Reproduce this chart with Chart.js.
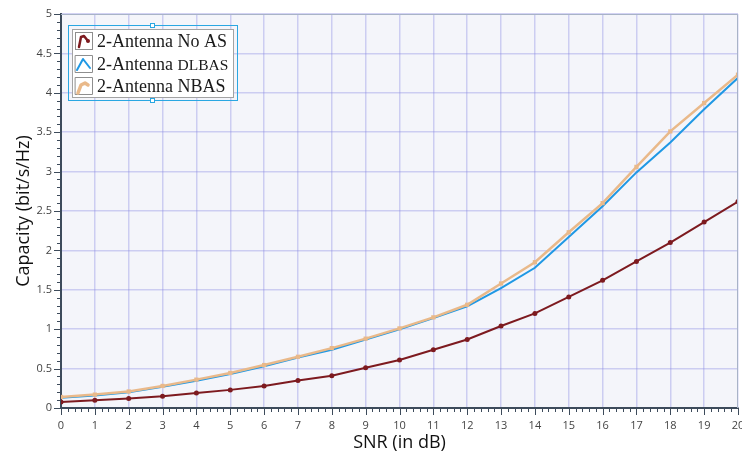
<!DOCTYPE html>
<html>
<head>
<meta charset="utf-8">
<script src="https://cdn.jsdelivr.net/npm/chart.js@4"></script>
<style>
  html, body { margin: 0; padding: 0; background: #fff; }
  canvas { display: block; }
</style>
</head>
<body>
<canvas id="myChart" width="742" height="457"></canvas>
<script>
const snr = [0, 1, 2, 3, 4, 5, 6, 7, 8, 9, 10, 11, 12, 13, 14, 15, 16, 17, 18, 19, 20];
const noAS = [0.076, 0.098, 0.12, 0.15, 0.19, 0.23, 0.28, 0.35, 0.41, 0.51, 0.61, 0.74, 0.87, 1.04, 1.2, 1.41, 1.62, 1.86, 2.1, 2.36, 2.62];
const dlbas = [0.13, 0.16, 0.2, 0.27, 0.345, 0.43, 0.53, 0.64, 0.74, 0.87, 1.0, 1.14, 1.29, 1.52, 1.78, 2.17, 2.56, 2.99, 3.37, 3.79, 4.19];
const nbas = [0.14, 0.17, 0.21, 0.28, 0.36, 0.445, 0.545, 0.65, 0.76, 0.88, 1.01, 1.15, 1.31, 1.58, 1.85, 2.23, 2.6, 3.06, 3.51, 3.87, 4.23];
const seriesNames = ['2-Antenna No AS', '2-Antenna DLBAS', '2-Antenna NBAS'];
const seriesColors = ['#7d1a1f', '#1f98e4', '#e9b98a'];

const toPoints = arr => snr.map((x, i) => ({x: x, y: arr[i]}));

// plot background, frame and the little minor ticks
const framePlugin = {
  id: 'frame',
  beforeDraw(chart) {
    const {ctx, chartArea: a} = chart;
    ctx.save();
    ctx.fillStyle = '#f4f5fa';
    ctx.fillRect(a.left, a.top, a.right - a.left, a.bottom - a.top);
    ctx.restore();
  },
  afterDraw(chart) {
    const {ctx, chartArea: a, scales} = chart;
    const x = scales.x, y = scales.y;
    ctx.save();
    ctx.strokeStyle = '#a8b3c7';
    ctx.lineWidth = 1;
    ctx.beginPath();
    ctx.moveTo(a.left, a.top + 0.5);
    ctx.lineTo(a.right - 0.5, a.top + 0.5);
    ctx.lineTo(a.right - 0.5, a.bottom);
    ctx.stroke();

    ctx.strokeStyle = '#3d4b5b';
    ctx.lineWidth = 1;
    ctx.beginPath();
    for (let i = 0; i <= 100; i++) {
      const px = Math.round(x.getPixelForValue(i / 5)) + 0.5;
      const len = i % 5 === 0 ? 7 : 4;
      ctx.moveTo(px, a.bottom);
      ctx.lineTo(px, a.bottom + len);
    }
    for (let i = 0; i <= 50; i++) {
      const py = Math.round(y.getPixelForValue(i / 10)) + 0.5;
      const len = i % 5 === 0 ? 7 : 4;
      ctx.moveTo(a.left, py);
      ctx.lineTo(a.left - len, py);
    }
    ctx.stroke();
    ctx.restore();
  }
};

// legend box drawn inside the plot like the original figure
const legendPlugin = {
  id: 'boxLegend',
  afterDraw(chart) {
    const ctx = chart.ctx;
    ctx.save();
    ctx.fillStyle = '#ffffff';
    ctx.fillRect(72, 29, 161, 68);
    ctx.strokeStyle = '#a3a3a3';
    ctx.lineWidth = 1;
    ctx.strokeRect(72.5, 29.5, 161, 68);
    ctx.strokeStyle = '#2aa7e2';
    ctx.strokeRect(68.5, 25.5, 169, 75);
    [25, 100].forEach(hy => {
      ctx.fillStyle = '#ffffff';
      ctx.fillRect(150, hy - 2, 5, 5);
      ctx.strokeRect(150.5, hy - 1.5, 4, 4);
    });

    const rows = [32, 55, 77];
    rows.forEach((top, i) => {
      const l = 75, t = top, s = 17;
      ctx.strokeStyle = '#8e8e8e';
      ctx.lineWidth = 1;
      ctx.strokeRect(l + 0.5, t + 0.5, s, s);
      ctx.strokeStyle = seriesColors[i];
      ctx.fillStyle = seriesColors[i];
      ctx.lineJoin = 'round';
      ctx.lineCap = 'round';
      ctx.beginPath();
      if (i === 0) {
        ctx.lineWidth = 2.5;
        ctx.moveTo(l + 4, t + 15);
        ctx.lineTo(l + 6, t + 5);
        ctx.lineTo(l + 9, t + 4);
        ctx.lineTo(l + 13, t + 9);
        ctx.stroke();
        ctx.beginPath();
        ctx.arc(l + 13, t + 9, 2, 0, Math.PI * 2);
        ctx.fill();
      } else if (i === 1) {
        ctx.lineWidth = 2;
        ctx.moveTo(l + 2, t + 15);
        ctx.lineTo(l + 8, t + 4);
        ctx.lineTo(l + 15, t + 13);
        ctx.stroke();
      } else {
        ctx.lineWidth = 3.5;
        ctx.moveTo(l + 3, t + 16);
        ctx.lineTo(l + 6, t + 8);
        ctx.lineTo(l + 10, t + 6);
        ctx.lineTo(l + 13, t + 8);
        ctx.stroke();
      }
      ctx.fillStyle = '#1a1a1a';
      ctx.textBaseline = 'alphabetic';
      ctx.textAlign = 'left';
      const base = t + 15;
      if (i === 1) {
        ctx.font = '18px "Liberation Serif"';
        ctx.fillText('2-Antenna ', 97, base);
        const w = ctx.measureText('2-Antenna ').width;
        ctx.font = '15.5px "Liberation Serif"';
        ctx.fillText('DLBAS', 97 + w, base);
      } else {
        ctx.font = '18px "Liberation Serif"';
        ctx.fillText(seriesNames[i], 97, base);
      }
    });
    ctx.restore();
  }
};

new Chart(document.getElementById('myChart').getContext('2d'), {
  type: 'line',
  data: {
    datasets: [
      {
        label: seriesNames[0], data: toPoints(noAS), order: 3,
        borderColor: seriesColors[0], backgroundColor: seriesColors[0],
        borderWidth: 2, pointRadius: 2.5, pointStyle: 'circle', pointBorderWidth: 0
      },
      {
        label: seriesNames[1], data: toPoints(dlbas), order: 2,
        borderColor: seriesColors[1], backgroundColor: seriesColors[1],
        borderWidth: 2, pointRadius: 0
      },
      {
        label: seriesNames[2], data: toPoints(nbas), order: 1,
        borderColor: seriesColors[2], backgroundColor: seriesColors[2],
        borderWidth: 2.5, pointRadius: 3, pointStyle: 'rect', pointBorderWidth: 0
      }
    ]
  },
  plugins: [framePlugin, legendPlugin],
  options: {
    responsive: false,
    animation: false,
    devicePixelRatio: 1,
    layout: { padding: { top: 14, right: 2, left: 0, bottom: 0 } },
    plugins: { legend: { display: false }, tooltip: { enabled: false } },
    scales: {
      x: {
        type: 'linear', min: 0, max: 20,
        ticks: { stepSize: 1, padding: 11, color: '#444', font: { family: 'Open Sans', size: 11 }, maxRotation: 0 },
        grid: { color: 'rgba(140,140,225,0.38)', lineWidth: 1.5, drawTicks: false },
        border: { display: true, color: '#3d4b5b', width: 2 },
        title: { display: true, text: 'SNR (in dB)', color: '#111', font: { family: 'Open Sans', size: 18 }, padding: { bottom: 3, top: 0 } },
        afterFit(scale) { scale.height = 49; scale.paddingLeft = 0; scale.paddingRight = 0; }
      },
      y: {
        min: 0, max: 5,
        ticks: {
          stepSize: 0.5, padding: 9, color: '#444', font: { family: 'Open Sans', size: 11 },
          callback: v => String(v)
        },
        grid: { color: 'rgba(140,140,225,0.38)', lineWidth: 1.5, drawTicks: false },
        border: { display: true, color: '#3d4b5b', width: 2 },
        title: { display: true, text: 'Capacity (bit/s/Hz)', color: '#111', font: { family: 'Open Sans', size: 18 }, padding: { top: 13, bottom: 0 } },
        afterFit(scale) { scale.width = 61; scale.paddingTop = 0; scale.paddingBottom = 0; }
      }
    }
  }
});
</script>
</body>
</html>
